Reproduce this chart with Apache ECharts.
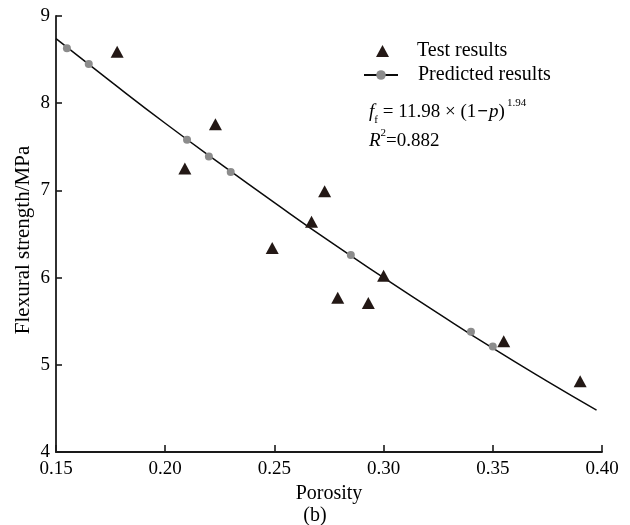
<!DOCTYPE html>
<html>
<head>
<meta charset="utf-8">
<script src="https://cdn.jsdelivr.net/npm/echarts@6/dist/echarts.min.js"></script>
<style>html,body{margin:0;padding:0;background:#fff}#c{width:630px;height:525px}</style>
</head>
<body>
<div id="c"></div>
<script>
// Test results (porosity, flexural strength)
const testPorosity = [0.178, 0.209, 0.223, 0.249, 0.267, 0.273, 0.279, 0.293, 0.300, 0.355, 0.390];
const testStrength = [8.59, 7.25, 7.76, 6.34, 6.64, 6.99, 5.77, 5.71, 6.02, 5.27, 4.81];
// Predicted points (grey dots)
const predPorosity = [0.155, 0.165, 0.210, 0.220, 0.230, 0.285, 0.340, 0.350];
const predStrength = [8.63, 8.45, 7.58, 7.39, 7.21, 6.26, 5.38, 5.21];
// Fitted curve
const curvePorosity = [0.150, 0.175, 0.200, 0.225, 0.250, 0.275, 0.300, 0.325, 0.350, 0.375, 0.3975];
const curveStrength = [8.74, 8.25, 7.77, 7.31, 6.86, 6.42, 6.00, 5.59, 5.19, 4.81, 4.48];
const xTicks = [0.15, 0.20, 0.25, 0.30, 0.35, 0.40];
const yTicks = [4, 5, 6, 7, 8, 9];

const FONT = '"Liberation Serif","Times New Roman",serif';
const zip = (a, b) => a.map((v, i) => [v, b[i]]);

const chart = echarts.init(document.getElementById('c'));
chart.setOption({
  animation: false,
  backgroundColor: '#fff',
  textStyle: { fontFamily: FONT },
  grid: { left: 56, right: 28, top: 16, bottom: 73, containLabel: false },
  xAxis: {
    type: 'value', min: xTicks[0], max: xTicks[xTicks.length - 1], interval: 0.05,
    name: 'Porosity', nameLocation: 'middle', nameGap: 32, nameMoveOverlap: false,
    nameTextStyle: { fontSize: 20, color: '#000', fontFamily: FONT },
    axisLine: { lineStyle: { color: '#1a1a1a', width: 1.8 } },
    axisTick: { inside: true, length: 7, lineStyle: { color: '#1a1a1a', width: 1.6 } },
    splitLine: { show: false },
    axisLabel: { fontSize: 19, color: '#000', fontFamily: FONT, margin: 8, formatter: v => v.toFixed(2) }
  },
  yAxis: {
    type: 'value', min: yTicks[0], max: yTicks[yTicks.length - 1], interval: 1,
    name: 'Flexural strength/MPa', nameLocation: 'middle', nameGap: 22, nameMoveOverlap: false,
    nameTextStyle: { fontSize: 21, color: '#000', fontFamily: FONT, padding: [0, 12, 0, 0] },
    axisLine: { show: true, lineStyle: { color: '#1a1a1a', width: 1.8 } },
    axisTick: { show: true, inside: true, length: 6, lineStyle: { color: '#1a1a1a', width: 1.6 } },
    splitLine: { show: false },
    axisLabel: { fontSize: 19, color: '#000', fontFamily: FONT, margin: 6 }
  },
  legend: [
    {
      data: ['Test results'], left: 376, top: 41, padding: 0, itemWidth: 13, itemHeight: 12,
      selectedMode: false,
      textStyle: { fontSize: 20, color: '#000', fontFamily: FONT, padding: [0, 0, 0, 23] }
    },
    {
      data: ['Predicted results'], left: 363, top: 65, padding: 0, itemWidth: 34, itemHeight: 12,
      selectedMode: false,
      textStyle: { fontSize: 20, color: '#000', fontFamily: FONT, padding: [0, 0, 0, 15] }
    }
  ],
  series: [
    {
      name: 'Predicted results', type: 'line', smooth: true, showSymbol: false,
      symbol: 'circle', symbolSize: 8,
      itemStyle: { color: '#8c8c8c', opacity: 1 },
      lineStyle: { color: '#0a0a0a', width: 1.5 },
      data: zip(curvePorosity, curveStrength), z: 2
    },
    {
      name: 'pred-points', type: 'scatter', symbol: 'circle', symbolSize: 8,
      itemStyle: { color: '#8c8c8c', opacity: 1 },
      data: zip(predPorosity, predStrength), z: 3
    },
    {
      name: 'Test results', type: 'scatter', symbol: 'triangle', symbolSize: [13, 12],
      itemStyle: { color: '#231815', opacity: 1 },
      data: zip(testPorosity, testStrength), z: 4
    }
  ],
  graphic: [
    {
      type: 'text', left: 369, top: 98,
      style: {
        text: '{i|f}{sb|f}{n| = 11.98 × (1}{m|−}{i|p}{n|)}{sp|1.94}',
        rich: {
          i: { fontSize: 19, fontStyle: 'italic', fontFamily: FONT, fill: '#000', lineHeight: 28 },
          n: { fontSize: 19, fontFamily: FONT, fill: '#000', lineHeight: 28 },
          m: { fontSize: 19, fontFamily: FONT, fill: '#000', fontWeight: 'bold', lineHeight: 28, padding: [0, 1, 0, 1] },
          sb: { fontSize: 11, fontFamily: FONT, fill: '#000', lineHeight: 18, verticalAlign: 'bottom' },
          sp: { fontSize: 11, fontFamily: FONT, fill: '#000', lineHeight: 12, verticalAlign: 'top', padding: [0, 0, 0, 2] }
        }
      }
    },
    {
      type: 'text', left: 369, top: 128,
      style: {
        text: '{i|R}{sp|2}{n|=0.882}',
        rich: {
          i: { fontSize: 19, fontStyle: 'italic', fontFamily: FONT, fill: '#000', lineHeight: 26 },
          n: { fontSize: 19, fontFamily: FONT, fill: '#000', lineHeight: 26 },
          sp: { fontSize: 11, fontFamily: FONT, fill: '#000', lineHeight: 12, verticalAlign: 'top' }
        }
      }
    },
    {
      type: 'text', left: 'center', top: 506,
      style: { text: '(b)', fontSize: 20, fontFamily: FONT, fill: '#000' }
    }
  ]
});
</script>
</body>
</html>
